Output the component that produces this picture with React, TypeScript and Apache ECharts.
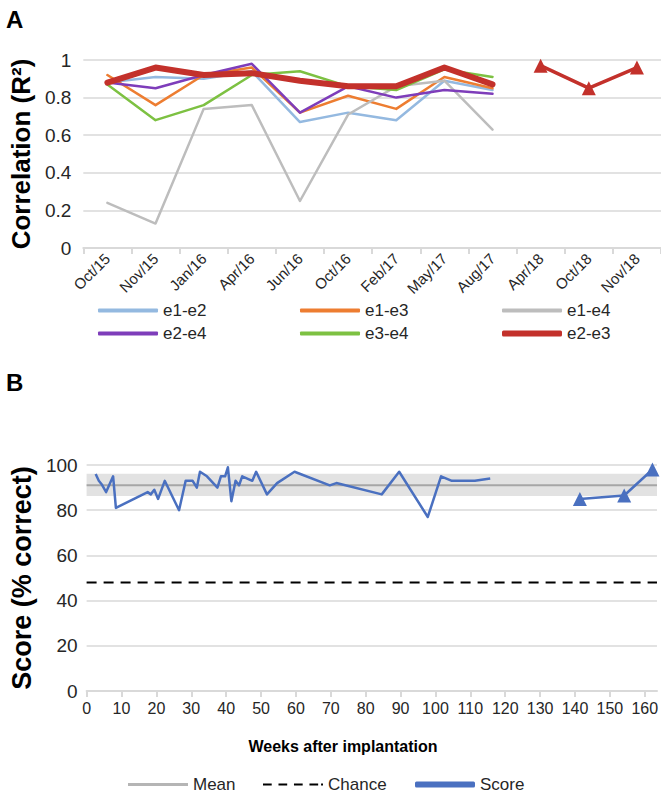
import React, { useEffect, useRef } from "react";
import * as echarts from "echarts";

// ---------- Panel A data ----------
const months = ["Oct/15", "Nov/15", "Jan/16", "Apr/16", "Jun/16", "Oct/16", "Feb/17", "May/17", "Aug/17", "Apr/18", "Oct/18", "Nov/18"];
const e1e2 = [0.88, 0.91, 0.9, 0.94, 0.67, 0.72, 0.68, 0.89, 0.84, null, null, null];
const e1e3 = [0.92, 0.76, 0.92, 0.96, 0.72, 0.81, 0.74, 0.91, 0.85, null, null, null];
const e1e4 = [0.24, 0.13, 0.74, 0.76, 0.25, 0.71, 0.86, 0.89, 0.63, null, null, null];
const e2e4 = [0.88, 0.85, 0.92, 0.98, 0.72, 0.86, 0.8, 0.84, 0.82, null, null, null];
const e3e4 = [0.87, 0.68, 0.76, 0.92, 0.94, 0.86, 0.84, 0.95, 0.91, null, null, null];
const e2e3 = [0.88, 0.96, 0.92, 0.93, 0.89, 0.86, 0.86, 0.96, 0.87, null, null, null];
const e2e3Late = [null, null, null, null, null, null, null, null, null, 0.97, 0.85, 0.96];
const corrTicks = [0, 0.2, 0.4, 0.6, 0.8, 1];

// ---------- Panel B data ----------
const scoreWeeks = [2.6, 3.5, 4.3, 5.6, 7.6, 8.4, 17.5, 18.4, 19.4, 20.5, 22.4, 26.5, 28.4, 30.4, 31.6, 32.5, 34.5, 37.5, 38.5, 39.7, 40.5, 41.5, 42.7, 43.7, 44.6, 47.5, 48.6, 51.7, 54.6, 59.6, 69.7, 71.6, 84.6, 89.6, 97.8, 101.6, 104.7, 111.3, 115.7];
const scoreValues = [96, 93, 91.5, 88, 95, 81, 88, 87, 89, 85, 93, 80, 93, 93, 90, 97, 95, 90, 95, 95, 99, 84, 93, 91, 95, 93, 97, 87, 92, 97, 91, 92, 87, 97, 77, 95, 93, 93, 94];
const lateWeeks = [141.4, 154.1, 162.2];
const lateValues = [85, 86.5, 98];
const meanScore = 91;
const meanLow = 86.3;
const meanHigh = 96.1;
const chanceScore = 48;
const weekTicks = [0, 10, 20, 30, 40, 50, 60, 70, 80, 90, 100, 110, 120, 130, 140, 150, 160];
const weekMax = 163.5;

const FONT = "'Liberation Sans', Arial, sans-serif";
const GRID_GREY = "#D9D9D9";
const TXT = "#262626";

const topLegendRows = [
  ["e1-e2", "e1-e3", "e1-e4"],
  ["e2-e4", "e3-e4", "e2-e3"],
];
const topLegendLeft = [93, 295, 497];
const topLegendTop = [297, 320];

const bottomLegend = ["Mean", "Chance", "Score"];
const bottomLegendLeft = [123, 258, 410];

export default function App() {
  const ref = useRef<HTMLDivElement>(null);

  useEffect(() => {
    if (!ref.current) return;
    const chart = echarts.init(ref.current, null, { renderer: "svg" });

    const lineSeries = (name: string, data: (number | null)[], color: string, width: number, z = 2) => ({
      name,
      type: "line",
      xAxisIndex: 0,
      yAxisIndex: 0,
      data,
      symbol: "none",
      showSymbol: false,
      connectNulls: false,
      z,
      lineStyle: { color, width, join: "round", cap: "round" },
      itemStyle: { color },
    });

    const colors: Record<string, string> = {
      "e1-e2": "#94B9E0",
      "e1-e3": "#ED7D31",
      "e1-e4": "#BDBDBD",
      "e2-e4": "#7E3DBA",
      "e3-e4": "#7DC142",
      "e2-e3": "#C3312B",
    };

    const legends: any[] = [];
    topLegendRows.forEach((row, r) => {
      row.forEach((name, c) => {
        legends.push({
          data: [name],
          left: topLegendLeft[c],
          top: topLegendTop[r],
          icon: "roundRect",
          itemWidth: 60,
          itemHeight: name === "e2-e3" ? 6 : 4,
          textStyle: { fontSize: 17, color: TXT, fontFamily: FONT },
        });
      });
    });
    const dashPath = "path://M0,0h9v2h-9zM16,0h9v2h-9zM32,0h9v2h-9zM48,0h9v2h-9zM60,0h2v2h-2z";
    bottomLegend.forEach((name, i) => {
      legends.push({
        data: [name],
        left: bottomLegendLeft[i],
        top: 771,
        icon: name === "Chance" ? dashPath : name === "Score" ? "roundRect" : "rect",
        itemWidth: 60,
        itemHeight: name === "Score" ? 6 : name === "Chance" ? 2 : 3,
        textStyle: { fontSize: 17, color: TXT, fontFamily: FONT },
      });
    });

    const option: any = {
      animation: false,
      backgroundColor: "#ffffff",
      textStyle: { fontFamily: FONT },
      title: [
        { text: "A", left: 1, top: 2, textStyle: { fontSize: 24, fontWeight: "bold", color: "#000", fontFamily: FONT } },
        { text: "B", left: 1, top: 365, textStyle: { fontSize: 24, fontWeight: "bold", color: "#000", fontFamily: FONT } },
      ],
      legend: legends,
      grid: [
        { left: 80, right: -3, top: 60, height: 188 },
        { left: 81, right: 3, top: 465, height: 226 },
      ],
      xAxis: [
        {
          type: "category",
          gridIndex: 0,
          data: months,
          boundaryGap: true,
          axisLine: { lineStyle: { color: GRID_GREY, width: 2 } },
          axisTick: { show: true, length: 6, lineStyle: { color: GRID_GREY, width: 2 } },
          axisLabel: { rotate: 45, fontSize: 15, color: TXT, margin: 8, fontFamily: FONT },
          splitLine: { show: false },
        },
        {
          type: "value",
          gridIndex: 1,
          min: 0,
          max: weekMax,
          interval: 10,
          axisLine: { lineStyle: { color: GRID_GREY, width: 2 } },
          axisTick: { show: true, length: 6, customValues: weekTicks, lineStyle: { color: GRID_GREY, width: 2 } },
          axisLabel: { fontSize: 16, color: TXT, margin: 9, customValues: weekTicks, fontFamily: FONT },
          splitLine: { show: false },
        },
      ],
      yAxis: [
        {
          type: "value",
          gridIndex: 0,
          min: 0,
          max: 1,
          interval: 0.2,
          axisLine: { show: false },
          axisTick: { show: false },
          axisLabel: { fontSize: 19, color: TXT, margin: 12, fontFamily: FONT, customValues: corrTicks },
          splitLine: { lineStyle: { color: GRID_GREY, width: 1.5 } },
          name: "Correlation (R²)",
          nameLocation: "middle",
          nameGap: 43,
          nameTextStyle: { fontSize: 26, fontWeight: "bold", color: "#000", fontFamily: FONT },
        },
        {
          type: "value",
          gridIndex: 1,
          min: 0,
          max: 100,
          interval: 20,
          axisLine: { show: false },
          axisTick: { show: false },
          axisLabel: { fontSize: 19, color: TXT, margin: 9, fontFamily: FONT },
          splitLine: { lineStyle: { color: GRID_GREY, width: 1.5 } },
          name: "Score (% correct)",
          nameLocation: "middle",
          nameGap: 46,
          nameTextStyle: { fontSize: 27, fontWeight: "bold", color: "#000", fontFamily: FONT },
        },
      ],
      graphic: [
        {
          type: "text",
          x: 343,
          y: 746,
          style: {
            text: "Weeks after implantation",
            fontSize: 16,
            fontWeight: "bold",
            fill: "#000",
            fontFamily: FONT,
            align: "center",
            verticalAlign: "middle",
          },
        },
      ],
      series: [
        lineSeries("e1-e2", e1e2, colors["e1-e2"], 2.5),
        lineSeries("e1-e3", e1e3, colors["e1-e3"], 2.5),
        lineSeries("e1-e4", e1e4, colors["e1-e4"], 2.5),
        lineSeries("e2-e4", e2e4, colors["e2-e4"], 2.5),
        lineSeries("e3-e4", e3e4, colors["e3-e4"], 2.5),
        lineSeries("e2-e3", e2e3, colors["e2-e3"], 6, 5),
        {
          name: "e2-e3 2018",
          type: "line",
          xAxisIndex: 0,
          yAxisIndex: 0,
          data: e2e3Late,
          symbol: "triangle",
          symbolSize: 14,
          showSymbol: true,
          z: 5,
          lineStyle: { color: colors["e2-e3"], width: 3.5 },
          itemStyle: { color: colors["e2-e3"] },
        },
        {
          name: "Mean",
          type: "line",
          xAxisIndex: 1,
          yAxisIndex: 1,
          data: [[0, meanScore], [weekMax, meanScore]],
          symbol: "none",
          z: 2,
          lineStyle: { color: "#A6A6A6", width: 2 },
          itemStyle: { color: "#B5B5B5" },
          markArea: {
            silent: true,
            itemStyle: { color: "#E2E2E2" },
            data: [[{ yAxis: meanLow }, { yAxis: meanHigh }]],
          },
        },
        {
          name: "Chance",
          type: "line",
          xAxisIndex: 1,
          yAxisIndex: 1,
          data: [[0, chanceScore], [weekMax, chanceScore]],
          symbol: "none",
          z: 2,
          lineStyle: { color: "#000", width: 2, type: [10, 7] },
          itemStyle: { color: "#000" },
        },
        {
          name: "Score",
          type: "line",
          xAxisIndex: 1,
          yAxisIndex: 1,
          data: scoreWeeks.map((w, i) => [w, scoreValues[i]]),
          symbol: "none",
          z: 4,
          lineStyle: { color: "#4A70C0", width: 2.5, join: "round" },
          itemStyle: { color: "#4A70C0" },
        },
        {
          name: "Score late",
          type: "line",
          xAxisIndex: 1,
          yAxisIndex: 1,
          data: lateWeeks.map((w, i) => [w, lateValues[i]]),
          symbol: "triangle",
          symbolSize: 14,
          z: 4,
          lineStyle: { color: "#4A70C0", width: 2.5 },
          itemStyle: { color: "#4A70C0" },
        },
      ],
    };

    chart.setOption(option);
    return () => chart.dispose();
  }, []);

  return (
    <div
      ref={ref}
      style={{ position: "fixed", left: 0, top: 0, width: 661, height: 794, background: "#fff" }}
    />
  );
}
